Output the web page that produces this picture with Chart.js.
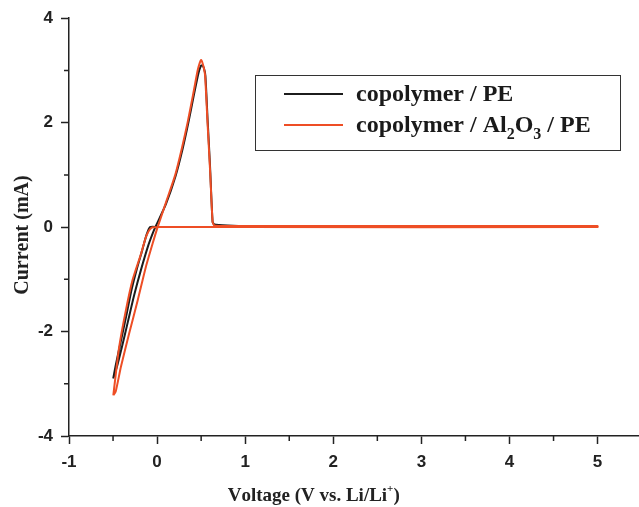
<!DOCTYPE html>
<html>
<head>
<meta charset="utf-8">
<script src="https://cdn.jsdelivr.net/npm/chart.js@4"></script>
<style>
  html, body { margin: 0; padding: 0; background: #fff; }
  canvas { display: block; }
</style>
</head>
<body>
<canvas id="cvChart" width="639" height="507"></canvas>
<script>
// copolymer / PE : one CV loop, forward scan then reverse scan
const voltagePE = [-0.498, -0.46, -0.40, -0.33, -0.26, -0.18, -0.10, -0.05, -0.02, 0.10, 0.21, 0.29, 0.355, 0.42, 0.47, 0.495, 0.51, 0.53, 0.548, 0.575, 0.60, 0.63, 0.65, 0.80, 1.2, 5.0,
                   5.0, 1.0, 0.0, -0.08, -0.12, -0.17, -0.23, -0.29, -0.35, -0.42, -0.47, -0.498];
const currentPE = [-2.90, -2.70, -2.30, -1.80, -1.30, -0.80, -0.35, -0.12, 0.0, 0.44, 0.98, 1.50, 2.00, 2.55, 2.95, 3.08, 3.10, 3.05, 2.90, 2.00, 1.20, 0.10, 0.05, 0.03, 0.01, 0.0,
                   0.0, 0.0, 0.0, 0.0, -0.15, -0.45, -0.80, -1.20, -1.70, -2.25, -2.65, -2.90];

// copolymer / Al2O3 / PE
const voltageAl = [-0.497, -0.47, -0.41, -0.316, -0.22, -0.127, -0.05, 0.006, 0.10, 0.206, 0.28, 0.346, 0.41, 0.46, 0.485, 0.50, 0.51, 0.53, 0.545, 0.573, 0.603, 0.63, 0.65, 0.75, 2.0, 5.0,
                   5.0, 1.0, 0.0, -0.07, -0.127, -0.18, -0.278, -0.354, -0.43, -0.486, -0.497];
const currentAl = [-3.22, -3.15, -2.67, -2.03, -1.40, -0.76, -0.31, 0.0, 0.47, 1.00, 1.50, 2.00, 2.55, 3.00, 3.15, 3.20, 3.17, 3.05, 2.90, 1.98, 1.03, 0.10, 0.03, 0.02, 0.02, 0.02,
                   0.0, 0.0, 0.0, -0.02, -0.19, -0.50, -1.01, -1.59, -2.29, -3.06, -3.22];

const seriesLabels = ['copolymer / PE', 'copolymer / Al₂O₃ / PE'];
const seriesColors = ['#1c1c1c', '#ee4e25'];

const xTitle = 'Voltage (V vs. Li/Li⁺)';
const yTitle = 'Current (mA)';

function toPoints(xs, ys) {
    return xs.map((x, i) => ({ x: x, y: ys[i] }));
}

// draws text where ₂ ₃ become subscripts and ⁺ a superscript
const subs = { '₂': '2', '₃': '3' };
const sups = { '⁺': '+' };
function richWidth(ctx, text, size, family) {
    let w = 0;
    for (const ch of text) {
        if (subs[ch] || sups[ch]) {
            ctx.font = 'bold ' + Math.round(size * 0.65) + 'px ' + family;
            w += ctx.measureText(subs[ch] || sups[ch]).width;
        } else {
            ctx.font = 'bold ' + size + 'px ' + family;
            w += ctx.measureText(ch).width;
        }
    }
    return w;
}
function drawRich(ctx, text, x, y, size, family) {
    ctx.textBaseline = 'alphabetic';
    ctx.textAlign = 'left';
    for (const ch of text) {
        if (subs[ch]) {
            ctx.font = 'bold ' + Math.round(size * 0.65) + 'px ' + family;
            ctx.fillText(subs[ch], x, y + size * 0.3);
            x += ctx.measureText(subs[ch]).width;
        } else if (sups[ch]) {
            ctx.font = 'bold ' + Math.round(size * 0.6) + 'px ' + family;
            ctx.fillText(sups[ch], x, y - size * 0.45);
            x += ctx.measureText(sups[ch]).width;
        } else {
            ctx.font = 'bold ' + size + 'px ' + family;
            ctx.fillText(ch, x, y);
            x += ctx.measureText(ch).width;
        }
    }
}

const serif = '"Liberation Serif", "Times New Roman", serif';

const extras = {
    id: 'extras',
    afterDraw(chart) {
        const ctx = chart.ctx;
        const xs = chart.scales.x;
        const ys = chart.scales.y;
        const area = chart.chartArea;
        ctx.save();
        ctx.strokeStyle = '#222';
        ctx.lineWidth = 1.5;
        // minor ticks
        ctx.beginPath();
        for (let v = -0.5; v <= 4.5; v += 1) {
            const px = xs.getPixelForValue(v);
            ctx.moveTo(px, area.bottom);
            ctx.lineTo(px, area.bottom + 5);
        }
        for (let v = -3; v <= 3; v += 2) {
            const py = ys.getPixelForValue(v);
            ctx.moveTo(area.left, py);
            ctx.lineTo(area.left - 5, py);
        }
        ctx.stroke();

        // axis titles
        ctx.fillStyle = '#222';
        const tw = richWidth(ctx, xTitle, 19, serif);
        drawRich(ctx, xTitle, 314 - tw / 2, 501, 19, serif);
        ctx.save();
        ctx.translate(28, 235);
        ctx.rotate(-Math.PI / 2);
        const yw = richWidth(ctx, yTitle, 20, serif);
        drawRich(ctx, yTitle, -yw / 2, 0, 20, serif);
        ctx.restore();

        // legend box
        ctx.lineWidth = 1;
        ctx.strokeStyle = '#333';
        ctx.strokeRect(255.5, 75.5, 365, 75);
        chart.data.datasets.forEach((ds, i) => {
            const ly = 94 + i * 31;
            ctx.strokeStyle = ds.borderColor;
            ctx.lineWidth = 2;
            ctx.beginPath();
            ctx.moveTo(284, ly);
            ctx.lineTo(343, ly);
            ctx.stroke();
            ctx.fillStyle = '#1a1a1a';
            drawRich(ctx, ds.label, 356, ly + 7, 24, serif);
        });
        ctx.restore();
    }
};

const tickFont = { family: '"Liberation Sans", Arial, sans-serif', size: 17, weight: 'bold' };

new Chart(document.getElementById('cvChart'), {
    type: 'scatter',
    data: {
        datasets: [{
            label: seriesLabels[0],
            data: toPoints(voltagePE, currentPE),
            borderColor: seriesColors[0],
            backgroundColor: seriesColors[0],
            borderWidth: 2,
            showLine: true,
            pointRadius: 0,
            tension: 0.2,
            order: 1
        }, {
            label: seriesLabels[1],
            data: toPoints(voltageAl, currentAl),
            borderColor: seriesColors[1],
            backgroundColor: seriesColors[1],
            borderWidth: 2,
            showLine: true,
            pointRadius: 0,
            tension: 0.2,
            order: 0
        }]
    },
    options: {
        responsive: false,
        animation: false,
        layout: { padding: { top: 18, right: 0, left: 0, bottom: 0 } },
        plugins: {
            legend: { display: false },
            tooltip: { enabled: false }
        },
        scales: {
            x: {
                type: 'linear',
                min: -1,
                max: 5.47,
                afterFit(scale) { scale.height = 71; },
                border: { color: '#222', width: 1.5 },
                grid: { drawOnChartArea: false, drawTicks: true, tickLength: 8, tickColor: '#222', tickWidth: 1.5 },
                ticks: { stepSize: 1, includeBounds: false, padding: 8, color: '#222', font: tickFont, maxRotation: 0 }
            },
            y: {
                type: 'linear',
                min: -4,
                max: 4,
                afterFit(scale) { scale.width = 69; },
                border: { color: '#222', width: 1.5 },
                grid: { drawOnChartArea: false, drawTicks: true, tickLength: 8, tickColor: '#222', tickWidth: 1.5 },
                ticks: { stepSize: 2, padding: 8, color: '#222', font: tickFont }
            }
        }
    },
    plugins: [extras]
});
</script>
</body>
</html>
